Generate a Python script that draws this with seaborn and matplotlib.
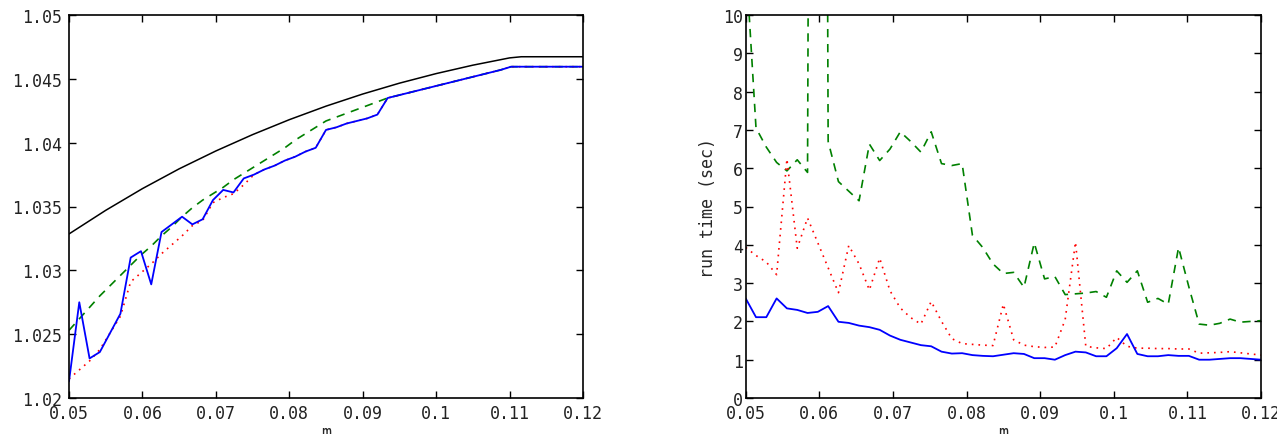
import numpy as np
import pandas as pd
import matplotlib
matplotlib.use("Agg")
import matplotlib.pyplot as plt
import seaborn as sns

# ---------------- data ----------------
m = [0.05, 0.0514, 0.0528, 0.0542, 0.0556, 0.057, 0.0584, 0.0598, 0.0612, 0.0626,
     0.064, 0.0654, 0.0668, 0.0682, 0.0696, 0.071, 0.0724, 0.0738, 0.0752, 0.0766,
     0.078, 0.0794, 0.0808, 0.0822, 0.0836, 0.085, 0.0864, 0.0878, 0.0892, 0.0906,
     0.092, 0.0934, 0.0948, 0.0962, 0.0976, 0.099, 0.1004, 0.1018, 0.1032, 0.1046,
     0.106, 0.1074, 0.1088, 0.1102, 0.1116, 0.113, 0.1144, 0.1158, 0.1172, 0.1186, 0.12]

# left panel
m_bound = [0.05, 0.055, 0.06, 0.065, 0.07, 0.075, 0.08, 0.085, 0.09, 0.095,
           0.10, 0.105, 0.11, 0.1116, 0.12]
bound = [1.03285, 1.0347, 1.0364, 1.03795, 1.03935, 1.04063, 1.0418, 1.04286,
         1.04381, 1.04466, 1.04541, 1.04607, 1.04664, 1.04673, 1.04673]

ratio_blue = [1.0213, 1.0275, 1.0231, 1.0236, 1.0251, 1.0266, 1.0310, 1.0315, 1.0289, 1.0330,
              1.0336, 1.0342, 1.0336, 1.0340, 1.0355, 1.0363, 1.0361, 1.0372, 1.0375, 1.0379,
              1.0382, 1.0386, 1.0389, 1.0393, 1.0396, 1.0410, 1.0412, 1.0415, 1.0417, 1.0419,
              1.0422, 1.0435, 1.0437, 1.0439, 1.0441, 1.0443, 1.0445, 1.0447, 1.0449, 1.0451,
              1.0453, 1.0455, 1.0457, 1.04595, 1.04595, 1.04595, 1.04595, 1.04595, 1.04595, 1.04595, 1.04595]

ratio_red = [1.0215, 1.0222, 1.0229, 1.0238, 1.0251, 1.0264, 1.0291, 1.0298, 1.0305, 1.0313,
             1.0320, 1.0327, 1.0335, 1.0339, 1.0353, 1.0357, 1.0360, 1.0367, 1.0375, 1.0379,
             1.0382, 1.0386, 1.0389, 1.0393, 1.0396, 1.0410, 1.0412, 1.0415, 1.0417, 1.0419,
             1.0422, 1.0435, 1.0437, 1.0439, 1.0441, 1.0443, 1.0445, 1.0447, 1.0449, 1.0451,
             1.0453, 1.0455, 1.0457, 1.04595, 1.04595, 1.04595, 1.04595, 1.04595, 1.04595, 1.04595, 1.04595]

ratio_green = [1.0253, 1.0262, 1.0271, 1.0280, 1.0288, 1.0296, 1.0304, 1.0312, 1.0319, 1.0327,
               1.0334, 1.0342, 1.0349, 1.0355, 1.0360, 1.0365, 1.0371, 1.0376, 1.0381, 1.0386,
               1.0391, 1.0396, 1.0402, 1.0407, 1.0412, 1.0417, 1.0420, 1.0423, 1.0426, 1.0429,
               1.0432, 1.0435, 1.0437, 1.0439, 1.0441, 1.0443, 1.0445, 1.0447, 1.0449, 1.0451,
               1.0453, 1.0455, 1.0457, 1.04595, 1.04595, 1.04595, 1.04595, 1.04595, 1.04595, 1.04595, 1.04595]

# right panel: run time (sec)
time_blue = [2.60, 2.11, 2.11, 2.60, 2.34, 2.30, 2.22, 2.25, 2.40, 1.99,
             1.96, 1.89, 1.85, 1.78, 1.63, 1.52, 1.45, 1.38, 1.35, 1.21,
             1.16, 1.17, 1.12, 1.10, 1.09, 1.13, 1.17, 1.15, 1.04, 1.04,
             1.00, 1.12, 1.21, 1.19, 1.09, 1.09, 1.30, 1.67, 1.15, 1.09,
             1.09, 1.12, 1.10, 1.10, 1.00, 1.00, 1.02, 1.04, 1.04, 1.02, 1.00]

time_red = [3.93, 3.72, 3.55, 3.22, 6.24, 3.91, 4.70, 4.05, 3.40, 2.75,
            3.98, 3.50, 2.82, 3.65, 2.80, 2.35, 2.10, 1.93, 2.52, 2.00,
            1.55, 1.42, 1.40, 1.38, 1.37, 2.45, 1.52, 1.38, 1.34, 1.32,
            1.33, 2.05, 4.07, 1.35, 1.31, 1.29, 1.58, 1.35, 1.30, 1.30,
            1.29, 1.29, 1.28, 1.28, 1.17, 1.18, 1.19, 1.21, 1.18, 1.15, 1.12]

time_green = [11.5, 7.05, 6.55, 6.15, 5.93, 6.22, 5.89, 80.0, 6.70, 5.65,
              5.40, 5.15, 6.63, 6.20, 6.50, 6.95, 6.70, 6.42, 6.95, 6.12,
              6.07, 6.12, 4.25, 3.93, 3.50, 3.25, 3.28, 2.89, 4.05, 3.11,
              3.17, 2.70, 2.72, 2.74, 2.78, 2.63, 3.32, 3.02, 3.32, 2.50,
              2.60, 2.45, 3.93, 2.90, 1.93, 1.90, 1.95, 2.06, 1.98, 2.00, 2.02]

xtick_vals = [0.05, 0.06, 0.07, 0.08, 0.09, 0.10, 0.11, 0.12]
xtick_labels = ["0.05", "0.06", "0.07", "0.08", "0.09", "0.1", "0.11", "0.12"]
ytick_left = [1.02, 1.025, 1.03, 1.035, 1.04, 1.045, 1.05]
ytick_left_labels = ["1.02", "1.025", "1.03", "1.035", "1.04", "1.045", "1.05"]
ytick_right = list(range(0, 11))
ytick_right_labels = [str(v) for v in ytick_right]

# ---------------- style ----------------
sns.set_style("ticks")
plt.rcParams["font.family"] = ["DejaVu Sans Mono", "DejaVu Sans"]
plt.rcParams["font.size"] = 12

W, H = 1277, 435
fig = plt.figure(figsize=(W / 100, H / 100), dpi=100)
ax1 = fig.add_axes([69 / W, (H - 399) / H, 514 / W, 383 / H])
ax2 = fig.add_axes([745.7 / W, (H - 399) / H, 515.3 / W, 383 / H])

dash = (0, (5, 4))
dot = (0, (1, 3))

# left
sns.lineplot(x=m_bound, y=bound, ax=ax1, color="k", lw=1.1, sort=False)
sns.lineplot(x=m, y=ratio_green, ax=ax1, color="g", lw=1.2, linestyle=dash, sort=False)
sns.lineplot(x=m, y=ratio_red, ax=ax1, color="r", lw=1.2, linestyle=dot, sort=False)
sns.lineplot(x=m, y=ratio_blue, ax=ax1, color="b", lw=1.3, sort=False)
ax1.set_xlim(0.05, 0.12)
ax1.set_ylim(1.02, 1.05)
ax1.set_yticks(ytick_left)
ax1.set_yticklabels(ytick_left_labels)

# right
sns.lineplot(x=m, y=time_green, ax=ax2, color="g", lw=1.2, linestyle=dash, sort=False)
sns.lineplot(x=m, y=time_red, ax=ax2, color="r", lw=1.2, linestyle=dot, sort=False)
sns.lineplot(x=m, y=time_blue, ax=ax2, color="b", lw=1.3, sort=False)
ax2.set_xlim(0.05, 0.12)
ax2.set_ylim(0, 10)
ax2.set_yticks(ytick_right)
ax2.set_yticklabels(ytick_right_labels)
ax2.set_ylabel("run time (sec)", labelpad=4)

for ax, ypad in ((ax1, 5), (ax2, 2)):
    ax.set_xticks(xtick_vals)
    ax.set_xticklabels(xtick_labels)
    ax.set_xlabel("m", labelpad=1)
    ax.tick_params(axis="both", which="major", direction="in", top=True, right=True,
                   length=5, width=1.0, color="k", labelcolor="#222222", labelsize=12)
    ax.tick_params(axis="x", pad=4)
    ax.tick_params(axis="y", pad=ypad)
    for s in ax.spines.values():
        s.set_visible(True)
        s.set_color("k")
        s.set_linewidth(1.2)

# left y label, mostly outside the figure as in the reference
ax1.set_ylabel("n")
ax1.yaxis.set_label_coords(-0.128, 0.5)

fig.savefig("out.png", dpi=100, facecolor="white")
